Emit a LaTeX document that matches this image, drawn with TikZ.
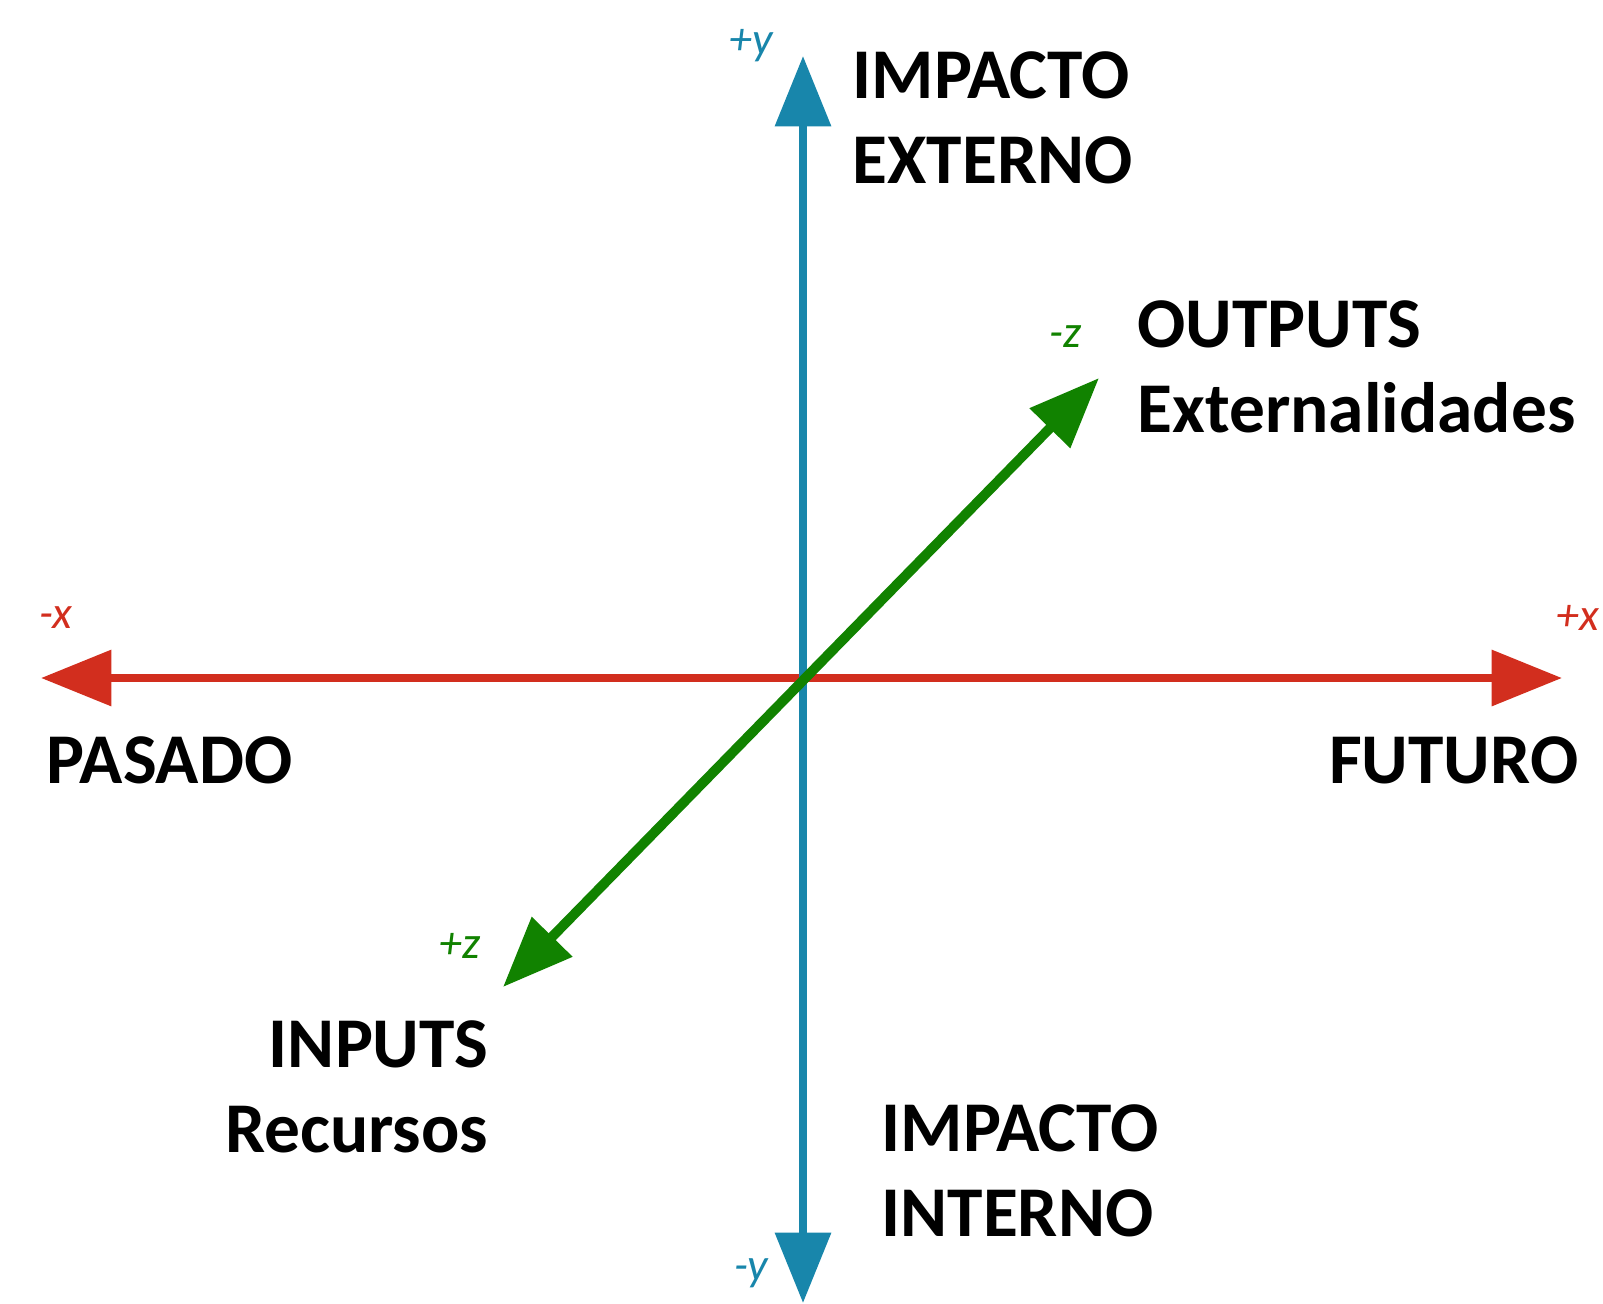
\documentclass[tikz,border=0pt]{standalone}
\usepackage{fontspec}
\setmainfont{Carlito}
\usetikzlibrary{arrows.meta}
\definecolor{ejeazul}{RGB}{24,134,171}
\definecolor{ejerojo}{RGB}{210,46,30}
\definecolor{ejeverde}{RGB}{17,130,0}

\begin{document}
\begin{tikzpicture}[x=0.01cm,y=-0.01cm,font=\fontsize{20.3}{24.2}\selectfont\bfseries]
\tikzset{
  eje/.style={line width=2.3pt,{Triangle[length=20pt,width=15.5pt]}-{Triangle[length=20pt,width=15.5pt]}},
  rotulo/.style={inner sep=0pt},
  signo/.style={inner sep=0pt,font=\fontsize{13}{15}\selectfont\itshape}
}
\useasboundingbox (0,0) rectangle (1603,1303);

\coordinate (ya) at (803,56);
\coordinate (yb) at (803,1303);
\coordinate (xa) at (41,678);
\coordinate (xb) at (1562,678);
\coordinate (za) at (1099,378);
\coordinate (zb) at (503,987);

\draw[eje, ejerojo] (xa) -- (xb);
\draw[eje, ejeazul] (ya) -- (yb);
\draw[eje, ejeverde, line width=2.8pt] (za) -- (zb);

\node[signo, text=ejeazul] (ymas) at (751,46) {+y};
\node[signo, text=ejeazul] (ymenos) at (751,1273) {-y};
\node[signo, text=ejerojo] (xmenos) at (56,618) {-x};
\node[signo, text=ejerojo] (xmas) at (1578,618) {+x};
\node[signo, text=ejeverde] (zmenos) at (1066,337) {-z};
\node[signo, text=ejeverde] (zmas) at (460,946) {+z};

\node[rotulo, anchor=north west, align=left] (impext) at (852,51) {IMPACTO\\EXTERNO};
\node[rotulo, anchor=north west, align=left] (outputs) at (1137,300) {OUTPUTS\\Externalidades};
\node[rotulo, anchor=north west] (pasado) at (46,736) {PASADO};
\node[rotulo, anchor=north east] (futuro) at (1579,736) {FUTURO};
\node[rotulo, anchor=north east, align=right] (inputs) at (489,1020) {INPUTS\\Recursos};
\node[rotulo, anchor=north west, align=left] (impint) at (881,1104) {IMPACTO\\INTERNO};

\end{tikzpicture}
\end{document}
